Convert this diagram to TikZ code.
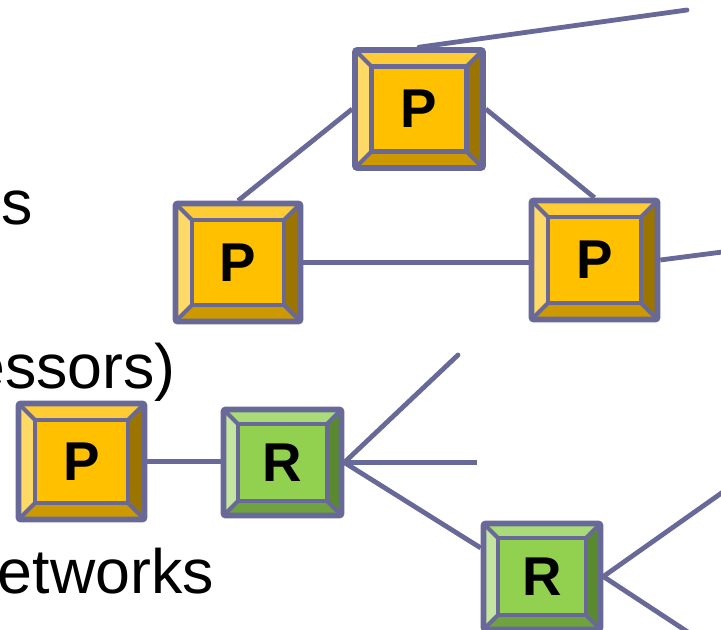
\documentclass[tikz,border=0pt]{standalone}
\usepackage{fontspec}
\setmainfont{Liberation Sans}
\usetikzlibrary{calc}
\pgfdeclarelayer{bg}
\pgfsetlayers{bg,main}
\definecolor{edgec}{HTML}{686899}
\definecolor{pmain}{HTML}{FFC000}
\definecolor{pleft}{HTML}{FFD966}
\definecolor{ptop}{HTML}{FFCC33}
\definecolor{pright}{HTML}{9C7400}
\definecolor{pbot}{HTML}{CC9A00}
\definecolor{rmain}{HTML}{92D050}
\definecolor{rleft}{HTML}{C3E5A0}
\definecolor{rtop}{HTML}{A9DC78}
\definecolor{rright}{HTML}{5A8A30}
\definecolor{rbot}{HTML}{6FA33F}
\newcommand\bevelpic[6]{%
  \begin{scope}[sharp corners]
  \coordinate (@sw) at (path picture bounding box.south west);
  \coordinate (@ne) at (path picture bounding box.north east);
  \coordinate (@nw) at (path picture bounding box.north west);
  \coordinate (@se) at (path picture bounding box.south east);
  \fill[#2] (@sw) -- (@nw) -- ([xshift=#6,yshift=-#6]@nw) -- ([xshift=#6,yshift=#6]@sw) -- cycle;
  \fill[#3] (@nw) -- (@ne) -- ([xshift=-#6,yshift=-#6]@ne) -- ([xshift=#6,yshift=-#6]@nw) -- cycle;
  \fill[#4] (@ne) -- (@se) -- ([xshift=-#6,yshift=#6]@se) -- ([xshift=-#6,yshift=-#6]@ne) -- cycle;
  \fill[#5] (@sw) -- (@se) -- ([xshift=-#6,yshift=#6]@se) -- ([xshift=#6,yshift=#6]@sw) -- cycle;
  \draw[edgec, line width=3pt]
    (@sw) -- ([xshift=#6,yshift=#6]@sw)
    (@nw) -- ([xshift=#6,yshift=-#6]@nw)
    (@ne) -- ([xshift=-#6,yshift=-#6]@ne)
    (@se) -- ([xshift=-#6,yshift=#6]@se);
  \filldraw[fill=#1, draw=edgec, line width=3.4pt]
    ([xshift=#6,yshift=#6]@sw) rectangle ([xshift=-#6,yshift=-#6]@ne);
  \end{scope}%
}
\tikzset{
  x=0.75pt, y=-0.75pt,
  box/.style={draw=edgec, line width=4.2pt, rounded corners=1.5pt, inner sep=0pt,
    font=\bfseries\fontsize{41}{44}\selectfont, text=black},
  pbox/.style n args={2}{box, minimum width=#1*0.75pt, minimum height=#2*0.75pt,
    path picture={\bevelpic{pmain}{pleft}{ptop}{pright}{pbot}{12.4pt}}},
  rbox/.style n args={2}{box, minimum width=#1*0.75pt, minimum height=#2*0.75pt,
    path picture={\bevelpic{rmain}{rleft}{rtop}{rright}{rbot}{11pt}}},
  conn/.style={draw=edgec, line width=3.6pt},
  bodytext/.style={anchor=base east, inner sep=0pt, font=\fontsize{47}{50}\selectfont, text=black}
}
\begin{document}
\begin{tikzpicture}
\useasboundingbox (0,0) rectangle (721,629);
\clip (0,0) rectangle (721,629);
% text
\node[bodytext] (ts) at (33,224) {s};
\node[bodytext] (tp) at (176,388) {essors)};
\node[bodytext] (tn) at (214,593) {etworks};
% boxes
\node[pbox={128}{118}] (Ptop) at (419,109) {P};
\node[pbox={125}{118}] (Pleft) at (238,262.5) {P};
\node[pbox={126}{119}] (Pright) at (594.5,260) {P};
\node[pbox={126}{116}] (Pbl) at (81.5,461.5) {P};
\node[rbox={118}{106}] (R1) at (282.5,462.5) {R};
\node[rbox={117}{106}] (R2) at (542,576.5) {R};
% free ends
\coordinate (e1) at (687,10);
\coordinate (e2) at (730,251);
\coordinate (e3) at (458,355);
\coordinate (e4) at (477,462.5);
\coordinate (e5) at (730,487);
\coordinate (e6) at (700,640);
\begin{pgfonlayer}{bg}
\clip (0,0) rectangle (721,629);
\draw[conn, line cap=round] (Ptop.north) -- (e1);
\draw[conn] (Ptop.west) -- (Pleft.north);
\draw[conn] (Ptop.east) -- (Pright.north);
\draw[conn] (Pleft.east) -- (Pleft.east -| Pright.west);
\draw[conn] (Pright.east) -- (e2);
\draw[conn] (Pbl.east) -- (Pbl.east -| R1.west);
\draw[conn, line cap=round] (R1.east) -- (e3);
\draw[conn] (R1.east) -- (e4);
\draw[conn] (R1.east) -- (R2.155);
\draw[conn] (R2.east) -- (e5);
\draw[conn] (R2.east) -- (e6);
\end{pgfonlayer}
\end{tikzpicture}
\end{document}
